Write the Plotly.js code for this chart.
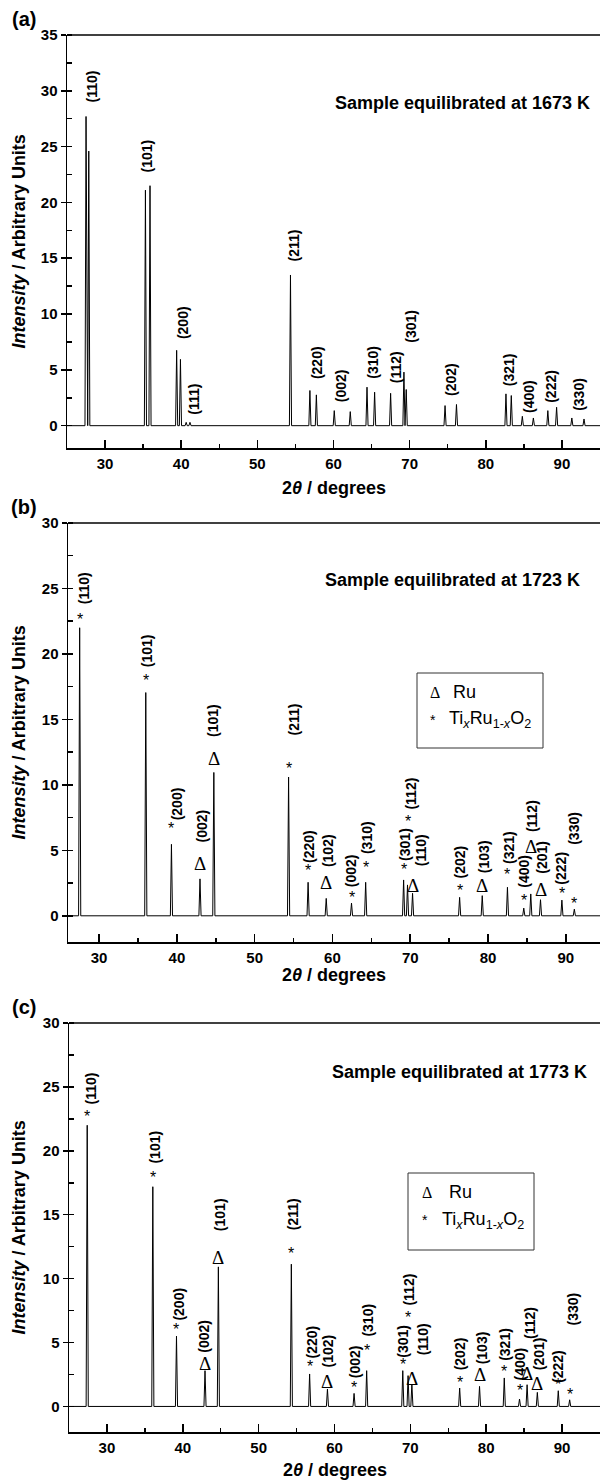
<!DOCTYPE html>
<html><head><meta charset="utf-8">
<script src="https://cdn.plot.ly/plotly-3.0.1.min.js"></script>
<style>body{margin:0;padding:0;background:#fff}#chart{width:600px;height:1482px}</style>
</head><body><div id="chart"></div>
<script>
// ---------- Panel (a): 1673 K ----------
const aPeakPos = [27.5, 27.86, 35.3, 35.9, 39.4, 39.9, 40.65, 41.15, 54.35, 56.9, 57.75, 60.1, 62.2, 64.4, 65.4, 67.5, 69.25, 69.55, 74.65, 76.15, 82.65, 83.35, 84.8, 86.25, 88.15, 89.3, 91.3, 92.9];
const aPeakInt = [27.7, 24.6, 21.1, 21.5, 6.75, 5.94, 0.3, 0.3, 13.5, 3.15, 2.76, 1.35, 1.26, 3.45, 3.0, 2.9, 4.8, 3.24, 1.8, 1.9, 2.85, 2.7, 0.84, 0.69, 1.35, 1.65, 0.69, 0.6];
const aHkl = ["(110)","(101)","(200)","(111)","(211)","(220)","(002)","(310)","(112)","(301)","(202)","(321)","(400)","(222)","(330)"];
const aLabelX = [28.3, 35.5, 40.25, 41.65, 54.75, 57.75, 61.0, 65.15, 68.15, 70.15, 75.5, 83.15, 85.65, 88.65, 92.15];
const aLabelY = [30.4, 24.2, 9.2, 2.4, 16.1, 5.64, 3.54, 5.7, 5.2, 8.94, 4.14, 5.04, 2.64, 3.54, 2.79];

// ---------- Panel (b): 1723 K ----------
const bPeakPos = [27.5, 36.0, 39.3, 42.97, 44.75, 54.36, 56.87, 59.2, 62.45, 64.27, 69.15, 69.65, 70.3, 76.35, 79.26, 82.5, 84.6, 85.5, 86.75, 89.5, 91.1];
const bPeakInt = [22.0, 17.05, 5.46, 2.82, 10.95, 10.6, 2.56, 1.33, 0.97, 2.56, 2.74, 2.36, 1.72, 1.41, 1.54, 2.18, 0.59, 1.67, 1.23, 1.2, 0.51];
const bPhase = ["*","*","*","Δ","Δ","*","*","Δ","*","*","*","*","Δ","*","Δ","*","*","Δ","Δ","*","*"];
const bHkl = ["(110)","(101)","(200)","(002)","(101)","(211)","(220)","(102)","(002)","(310)","(301)","(112)","(110)","(202)","(103)","(321)","(400)","(112)","(201)","(222)","(330)"];
const bMarkY = [22.6, 18.0, 6.67, 4.03, 12.05, 11.28, 3.46, 2.56, 1.41, 3.72, 3.51, 7.18, 2.31, 1.92, 2.31, 3.15, 1.2, 5.3, 2.0, 1.67, 0.97];
const bLabelX = [28.16, 36.1, 40.06, 43.17, 44.67, 55.0, 56.97, 59.44, 62.4, 64.37, 69.4, 70.14, 71.37, 76.45, 79.5, 82.6, 84.7, 85.57, 86.95, 89.37, 91.1];
const bLabelY = [25.0, 20.25, 8.54, 6.87, 14.9, 14.96, 5.33, 4.95, 3.41, 5.97, 5.46, 9.36, 5.0, 4.1, 4.49, 5.2, 3.41, 7.64, 4.44, 3.67, 6.67];

// ---------- Panel (c): 1773 K ----------
const cPeakPos = [27.4, 36.05, 39.17, 42.93, 44.69, 54.31, 56.72, 59.07, 62.58, 64.24, 69.0, 69.7, 70.2, 76.5, 79.12, 82.38, 84.39, 85.39, 86.74, 89.5, 91.0];
const cPeakInt = [22.0, 17.19, 5.5, 2.8, 10.92, 11.13, 2.54, 1.36, 1.02, 2.8, 2.8, 2.41, 1.75, 1.44, 1.57, 2.23, 0.58, 1.7, 1.1, 1.23, 0.52];
const cPhase = bPhase;
const cHkl = bHkl;
const cMarkY = [22.7, 17.94, 6.0, 3.38, 11.65, 11.96, 3.14, 1.96, 1.49, 4.37, 3.27, 6.99, 2.2, 1.88, 2.49, 2.72, 1.23, 2.59, 1.81, 1.7, 0.97];
const cLabelX = [27.86, 36.28, 39.52, 42.88, 44.83, 54.47, 56.97, 59.17, 62.68, 64.44, 69.1, 69.85, 71.6, 76.47, 79.37, 82.38, 84.39, 85.79, 86.99, 89.55, 91.4];
const cLabelY = [24.86, 20.3, 7.98, 5.5, 15.0, 15.0, 5.05, 4.32, 3.53, 6.73, 5.1, 9.16, 5.29, 4.11, 4.58, 4.84, 3.32, 6.54, 4.11, 3.14, 7.64];

const sampleTitles = ["Sample equilibrated at 1673 K", "Sample equilibrated at 1723 K", "Sample equilibrated at 1773 K"];
const panelTags = ["(a)", "(b)", "(c)"];

// ---------- layout helpers ----------
const W = 600, H = 1482;
const FONT = "Liberation Sans, Arial, sans-serif";
const px = v => v / W, py = v => 1 - v / H;
const panels = [
  {top: 35,   bottom: 448,  left: 67, xr: [25, 95],   yr: [-2, 35], titleY: 488, sample: [93.9, 28.9]},
  {top: 523,  bottom: 942,  left: 68, xr: [26, 94.4], yr: [-2, 30], titleY: 975, sample: [92.1, 25.65]},
  {top: 1023, bottom: 1432, left: 69, xr: [25, 95],   yr: [-2, 30], titleY: 1470, sample: [93.5, 26.2]}
];
const HW = 0.14; // half width of drawn peak profile

function profile(pos, inten, xr) {
  const order = pos.map((p, i) => i).sort((i, j) => pos[i] - pos[j]);
  const xs = [xr[0]], ys = [0];
  order.forEach(i => {
    xs.push(pos[i] - HW, pos[i], pos[i] + HW);
    ys.push(0, inten[i], 0);
  });
  xs.push(xr[1]); ys.push(0);
  return {xs, ys};
}

const peakSets = [[aPeakPos, aPeakInt], [bPeakPos, bPeakInt], [cPeakPos, cPeakInt]];
const data = [];
const layout = {
  width: W, height: H, margin: {l: 0, r: 0, t: 0, b: 0},
  paper_bgcolor: "#fff", plot_bgcolor: "#fff", showlegend: false,
  font: {family: FONT, color: "#000"},
  annotations: [], shapes: []
};

panels.forEach((p, k) => {
  const n = k === 0 ? "" : String(k + 1);
  const pr = profile(peakSets[k][0], peakSets[k][1], p.xr);
  data.push({x: pr.xs, y: pr.ys, type: "scatter", mode: "lines",
    line: {color: "#000", width: 1}, xaxis: "x" + n, yaxis: "y" + n, hoverinfo: "skip"});
  layout["xaxis" + n] = {
    domain: [px(p.left), 1], range: p.xr, anchor: "y" + n,
    showline: true, linecolor: "#000", linewidth: 1.5, mirror: false,
    ticks: "inside", ticklen: 8, tickwidth: 1.5, tickcolor: "#000",
    tick0: 0, dtick: 10, showgrid: false, zeroline: false,
    minor: {ticks: "inside", ticklen: 4, tickwidth: 1.5, tickcolor: "#000", dtick: 5, tick0: 0, showgrid: false},
    tickfont: {family: FONT, size: 15, weight: "bold", color: "#000"}, ticklabelstandoff: 1
  };
  layout["yaxis" + n] = {
    domain: [py(p.bottom), py(p.top)], range: p.yr, anchor: "x" + n,
    showline: true, linecolor: "#000", linewidth: 1.5,
    ticks: "outside", ticklen: 5, tickwidth: 1.5, tickcolor: "#000",
    tick0: 0, dtick: 5, showgrid: false, zeroline: false,
    minor: {ticks: "inside", ticklen: 5, tickwidth: 1.5, tickcolor: "#000", dtick: 2.5, tick0: 0, showgrid: false},
    tickfont: {family: FONT, size: 15, weight: "bold", color: "#000"}
  };
  // top frame line
  layout.shapes.push({type: "line", xref: "paper", yref: "paper",
    x0: px(p.left), x1: 1, y0: py(p.top), y1: py(p.top), line: {color: "#000", width: 1.5}});
  // axis titles
  layout.annotations.push({xref: "paper", yref: "paper", x: px(18), y: py((p.top + p.bottom) / 2),
    text: "<i>Intensity</i> / Arbitrary Units", textangle: -90, showarrow: false,
    xanchor: "center", yanchor: "middle", font: {family: FONT, size: 18, weight: "bold"}});
  layout.annotations.push({xref: "paper", yref: "paper", x: px((p.left + 600) / 2), y: py(p.titleY),
    text: "2<i>θ</i> / degrees", showarrow: false, xanchor: "center", yanchor: "middle",
    font: {family: FONT, size: 18, weight: "bold"}});
  // panel tag
  layout.annotations.push({xref: "paper", yref: "paper", x: px(24), y: py(p.top - 16),
    text: panelTags[k], showarrow: false, xanchor: "center", yanchor: "middle",
    font: {family: FONT, size: 20, weight: "bold"}});
  // sample text
  layout.annotations.push({xref: "x" + n, yref: "y" + n, x: p.sample[0], y: p.sample[1],
    text: sampleTitles[k], showarrow: false, xanchor: "right", yanchor: "middle",
    font: {family: FONT, size: 18, weight: "bold"}});
});

function hklLabels(n, txt, lx, ly) {
  txt.forEach((t, i) => layout.annotations.push({xref: "x" + n, yref: "y" + n, x: lx[i], y: ly[i],
    text: t, textangle: -90, showarrow: false, xanchor: "center", yanchor: "middle",
    font: {family: FONT, size: 14, weight: "bold"}}));
}
function phaseMarks(n, pos, my, ph) {
  pos.forEach((x, i) => layout.annotations.push({xref: "x" + n, yref: "y" + n, x: x, y: my[i],
    text: ph[i], showarrow: false, xanchor: "center", yanchor: "middle",
    font: ph[i] === "Δ" ? {family: "Liberation Serif, serif", size: 19} : {family: FONT, size: 16}}));
}
hklLabels("", aHkl, aLabelX, aLabelY);
hklLabels("2", bHkl, bLabelX, bLabelY);
phaseMarks("2", bPeakPos, bMarkY, bPhase);
hklLabels("3", cHkl, cLabelX, cLabelY);
phaseMarks("3", cPeakPos, cMarkY, cPhase);

// legend boxes for panels (b) and (c)
const legendBoxes = [
  {x0: 417, x1: 543, y0: 673, y1: 748, sym: 428, txt1: 451, txt2: 447, l1: 692, l2: 720},
  {x0: 408, x1: 534, y0: 1173, y1: 1250, sym: 420, txt1: 447, txt2: 440, l1: 1192, l2: 1220}
];
legendBoxes.forEach(b => {
  layout.shapes.push({type: "rect", xref: "paper", yref: "paper",
    x0: px(b.x0), x1: px(b.x1), y0: py(b.y1), y1: py(b.y0), line: {color: "#333", width: 1}});
  layout.annotations.push({xref: "paper", yref: "paper", x: px(b.sym), y: py(b.l1), text: "Δ",
    showarrow: false, xanchor: "left", yanchor: "middle", font: {family: "Liberation Serif, serif", size: 16}});
  layout.annotations.push({xref: "paper", yref: "paper", x: px(b.txt1), y: py(b.l1), text: "Ru",
    showarrow: false, xanchor: "left", yanchor: "middle", font: {family: FONT, size: 18}});
  layout.annotations.push({xref: "paper", yref: "paper", x: px(b.sym), y: py(b.l2), text: "*",
    showarrow: false, xanchor: "left", yanchor: "middle", font: {family: FONT, size: 14}});
  layout.annotations.push({xref: "paper", yref: "paper", x: px(b.txt2), y: py(b.l2),
    text: "Ti<sub><i>x</i></sub>Ru<sub>1-<i>x</i></sub>O<sub>2</sub>",
    showarrow: false, xanchor: "left", yanchor: "middle", font: {family: FONT, size: 18}});
});

Plotly.newPlot("chart", data, layout, {staticPlot: true, displayModeBar: false});
</script></body></html>
